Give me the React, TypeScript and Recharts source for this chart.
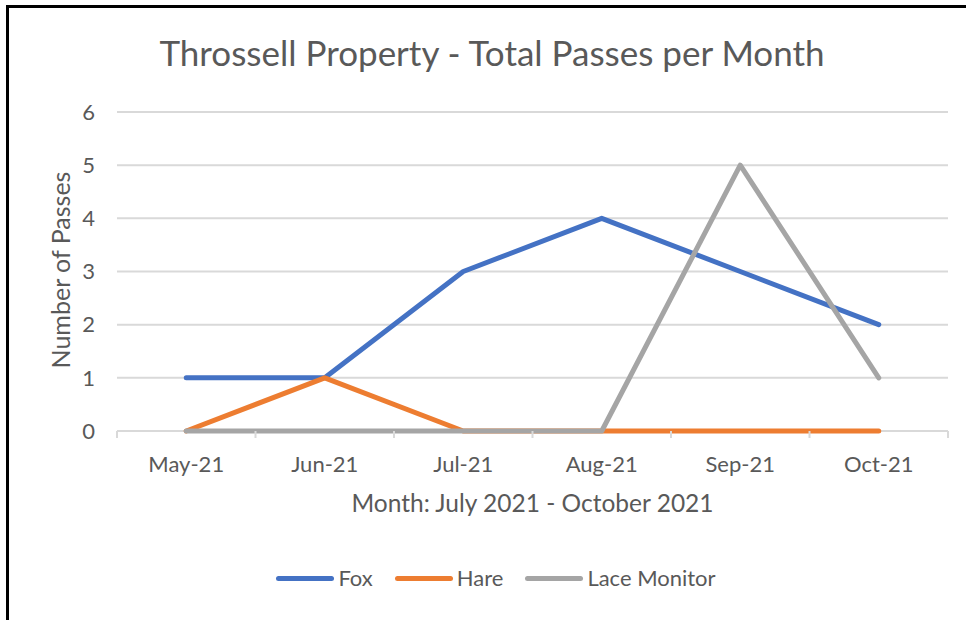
import React from "react";
import { LineChart, Line, XAxis, YAxis, CartesianGrid } from "recharts";

const months = ["May-21", "Jun-21", "Jul-21", "Aug-21", "Sep-21", "Oct-21"];
const fox = [1, 1, 3, 4, 3, 2];
const hare = [0, 1, 0, 0, 0, 0];
const laceMonitor = [0, 0, 0, 0, 5, 1];
const yTicks = [0, 1, 2, 3, 4, 5, 6];

const series = [
  { key: "fox", name: "Fox", color: "#4472C4" },
  { key: "hare", name: "Hare", color: "#ED7D31" },
  { key: "lace", name: "Lace Monitor", color: "#A5A5A5" },
];

const chartData = months.map((month, i) => ({
  month,
  fox: fox[i],
  hare: hare[i],
  lace: laceMonitor[i],
}));

const FONT = "Lato, 'Open Sans', sans-serif";
const TEXT = "#595959";
const GRID = "#D9D9D9";
const HALF_BAND = 69.25;

// category labels sit in the middle of each band, tick marks on band edges
function MonthTick(props: any) {
  const { x, y, payload, index } = props;
  const last = index === months.length - 1;
  return (
    <g>
      <line x1={x - HALF_BAND} y1={y} x2={x - HALF_BAND} y2={y + 7} stroke={GRID} strokeWidth={2} />
      {last && (
        <line x1={x + HALF_BAND} y1={y} x2={x + HALF_BAND} y2={y + 7} stroke={GRID} strokeWidth={2} />
      )}
      <text x={x} y={y + 41} textAnchor="middle" fill={TEXT} fontSize={22} fontFamily={FONT}>
        {payload.value}
      </text>
    </g>
  );
}

export default function App() {
  return (
    <div
      style={{
        position: "fixed",
        left: 0,
        top: 0,
        width: 966,
        height: 620,
        background: "#fff",
        overflow: "hidden",
        fontFamily: FONT,
        color: TEXT,
      }}
    >
      <div
        style={{
          position: "absolute",
          left: 6,
          top: 5,
          width: 980,
          height: 640,
          borderLeft: "3px solid #000",
          borderTop: "3px solid #000",
        }}
      />
      <div
        style={{
          position: "absolute",
          left: 0,
          width: 984,
          top: 31,
          textAlign: "center",
          fontSize: 35,
          lineHeight: 1.2,
          whiteSpace: "nowrap",
        }}
      >
        Throssell Property - Total Passes per Month
      </div>
      <div
        style={{
          position: "absolute",
          left: 60 - 150,
          top: 270 - 15,
          width: 300,
          textAlign: "center",
          fontSize: 25,
          lineHeight: "30px",
          transform: "rotate(-90deg)",
          whiteSpace: "nowrap",
        }}
      >
        Number of Passes
      </div>
      <div
        style={{
          position: "absolute",
          left: 117,
          width: 831,
          top: 488,
          textAlign: "center",
          fontSize: 24.5,
          lineHeight: 1.2,
          whiteSpace: "nowrap",
        }}
      >
        Month: July 2021 - October 2021
      </div>
      <div style={{ position: "absolute", left: 0, top: 0 }}>
        <LineChart
          width={966}
          height={620}
          data={chartData}
          margin={{ top: 112, right: 18, bottom: 159, left: 0 }}
        >
          {/* the zero gridline doubles as the category axis line */}
          <CartesianGrid vertical={false} stroke={GRID} strokeWidth={2} />
          <XAxis
            dataKey="month"
            padding={{ left: HALF_BAND, right: HALF_BAND }}
            axisLine={false}
            tickLine={false}
            tickSize={0}
            tickMargin={0}
            interval={0}
            tick={<MonthTick />}
          />
          <YAxis
            width={117}
            domain={[0, 6]}
            ticks={yTicks}
            axisLine={false}
            tickLine={false}
            tickSize={0}
            tickMargin={22}
            tick={{ fill: TEXT, fontSize: 22, fontFamily: FONT }}
          />
          {series.map((s) => (
            <Line
              key={s.key}
              type="linear"
              dataKey={s.key}
              name={s.name}
              stroke={s.color}
              strokeWidth={5}
              strokeLinejoin="round"
              strokeLinecap="round"
              dot={false}
              activeDot={false}
              isAnimationActive={false}
            />
          ))}
        </LineChart>
      </div>
      <div
        style={{
          position: "absolute",
          left: 0,
          width: 992,
          top: 565,
          display: "flex",
          justifyContent: "center",
          alignItems: "center",
          fontSize: 22,
          lineHeight: "26px",
        }}
      >
        {series.map((s, i) => (
          <div
            key={s.key}
            style={{ display: "flex", alignItems: "center", marginLeft: i === 0 ? 0 : 22 }}
          >
            <span
              style={{
                display: "inline-block",
                width: 58,
                height: 5,
                borderRadius: 3,
                background: s.color,
                marginRight: 4,
              }}
            />
            <span>{s.name}</span>
          </div>
        ))}
      </div>
    </div>
  );
}
